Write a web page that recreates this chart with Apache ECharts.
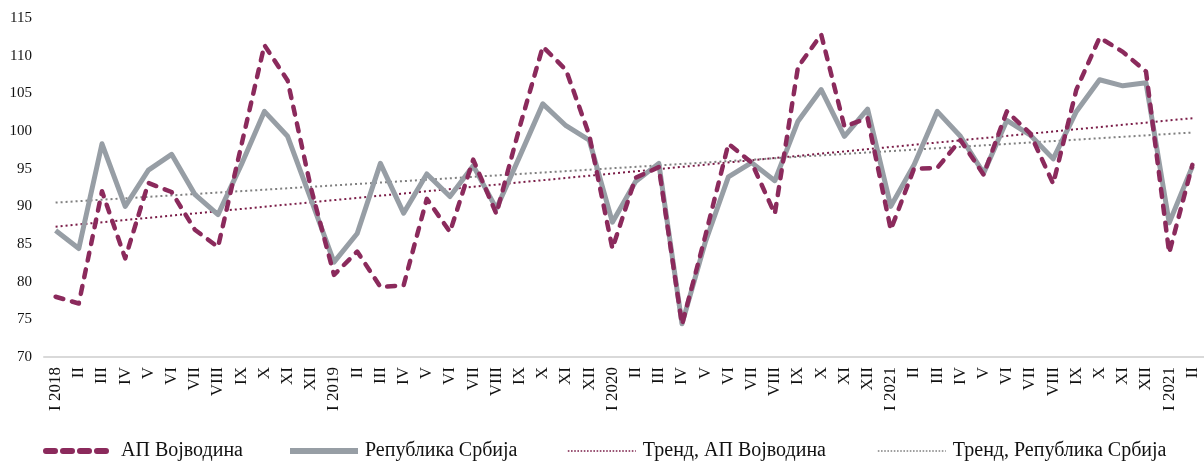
<!DOCTYPE html>
<html>
<head>
<meta charset="utf-8">
<script src="https://cdn.jsdelivr.net/npm/echarts@6/dist/echarts.min.js"></script>
<style>
  html, body { margin: 0; padding: 0; background: #fff; }
  #chart { width: 1204px; height: 461px; }
</style>
</head>
<body>
<div id="chart"></div>
<script>
const categories = [
  'I 2018','II','III','IV','V','VI','VII','VIII','IX','X','XI','XII',
  'I 2019','II','III','IV','V','VI','VII','VIII','IX','X','XI','XII',
  'I 2020','II','III','IV','V','VI','VII','VIII','IX','X','XI','XII',
  'I 2021','II','III','IV','V','VI','VII','VIII','IX','X','XI','XII',
  'I 2021','II'
];

const vojvodina = [
  78.0, 77.1, 92.0, 83.1, 93.1, 91.9, 86.9, 84.6, 98.0, 111.4, 106.7, 92.5,
  80.9, 84.0, 79.3, 79.5, 91.0, 86.6, 96.2, 89.0, 100.5, 111.2, 108.1, 99.5,
  84.4, 93.8, 95.2, 74.3, 86.0, 98.3, 95.8, 89.0, 108.5, 112.8, 100.6, 101.7,
  86.9, 95.0, 95.1, 98.8, 94.2, 102.6, 99.7, 93.0, 105.5, 112.4, 110.5, 107.9,
  83.8, 95.5
];

const srbija = [
  86.8, 84.4, 98.3, 90.0, 94.8, 96.9, 91.6, 88.9, 95.5, 102.6, 99.3, 91.0,
  82.6, 86.4, 95.7, 89.1, 94.3, 91.3, 95.4, 89.7, 96.6, 103.6, 100.7, 98.8,
  87.9, 93.3, 95.7, 74.4, 85.2, 93.9, 95.8, 93.4, 101.3, 105.5, 99.3, 102.9,
  90.0, 95.5, 102.6, 99.3, 94.4, 101.4, 99.5, 96.3, 102.6, 106.8, 106.0, 106.4,
  87.8, 95.3
];

// trend line end points (first and last month)
const trendVojvodina = [87.3, 101.7];
const trendSrbija = [90.5, 99.8];

const yTicks = { min: 70, max: 115, interval: 5 };

const names = ['АП Војводина', 'Република Србија', 'Тренд, АП Војводина', 'Тренд, Република Србија'];

const FONT = 'Liberation Serif';
const last = categories.length - 1;

const C_AP = '#8b2a5c';
const C_RS = '#979ea5';
const C_TAP = '#7a1c47';
const C_TRS = '#808080';

const legendLeft = [43, 287, 567, 877];
const legendLines = [
  { color: C_AP, width: 6, type: [9, 8], cap: 'round' },
  { color: C_RS, width: 6, type: 'solid' },
  { color: C_TAP, width: 1.6, type: [1.6, 1.6] },
  { color: C_TRS, width: 1.6, type: [1.6, 1.6] }
];

const legends = names.map((n, i) => ({
  left: legendLeft[i],
  top: 441,
  padding: 0,
  itemWidth: 68,
  itemHeight: 14,
  itemGap: 0,
  itemStyle: { opacity: 0 },
  textStyle: { fontFamily: FONT, fontSize: 20, color: '#111', lineHeight: 14, padding: [0, 0, 0, 2] },
  data: [{ name: n, lineStyle: legendLines[i], itemStyle: { opacity: 0 } }]
}));

const chart = echarts.init(document.getElementById('chart'), null, { renderer: 'canvas' });
chart.setOption({
  animation: false,
  backgroundColor: '#ffffff',
  textStyle: { fontFamily: FONT },
  grid: { left: 44, right: -5, top: 18, bottom: 104, containLabel: false },
  legend: legends,
  xAxis: {
    type: 'category',
    data: categories,
    boundaryGap: true,
    axisLine: { show: true, lineStyle: { color: '#d9d9d9', width: 2 } },
    axisTick: { show: false },
    axisLabel: {
      interval: 0,
      rotate: 90,
      margin: 10,
      fontFamily: FONT,
      fontSize: 17,
      color: '#111'
    },
    splitLine: { show: false }
  },
  yAxis: {
    type: 'value',
    min: yTicks.min,
    max: yTicks.max,
    interval: yTicks.interval,
    axisLine: { show: false },
    axisTick: { show: false },
    splitLine: { show: false },
    axisLabel: { margin: 12, fontFamily: FONT, fontSize: 15, color: '#111' }
  },
  series: [
    {
      name: names[0],
      type: 'line',
      data: vojvodina,
      symbol: 'none',
      z: 4,
      lineStyle: { color: C_AP, width: 4.5, type: [8, 9], cap: 'round', join: 'round' },
      itemStyle: { color: C_AP }
    },
    {
      name: names[1],
      type: 'line',
      data: srbija,
      symbol: 'none',
      z: 3,
      lineStyle: { color: C_RS, width: 5, join: 'round' },
      itemStyle: { color: C_RS }
    },
    {
      name: names[2],
      type: 'line',
      data: [[0, trendVojvodina[0]], [last, trendVojvodina[1]]],
      symbol: 'none',
      z: 2,
      lineStyle: { color: C_TAP, width: 2, type: [2, 3] },
      itemStyle: { color: C_TAP }
    },
    {
      name: names[3],
      type: 'line',
      data: [[0, trendSrbija[0]], [last, trendSrbija[1]]],
      symbol: 'none',
      z: 2,
      lineStyle: { color: C_TRS, width: 2, type: [2, 3] },
      itemStyle: { color: C_TRS }
    }
  ]
});
</script>
</body>
</html>
